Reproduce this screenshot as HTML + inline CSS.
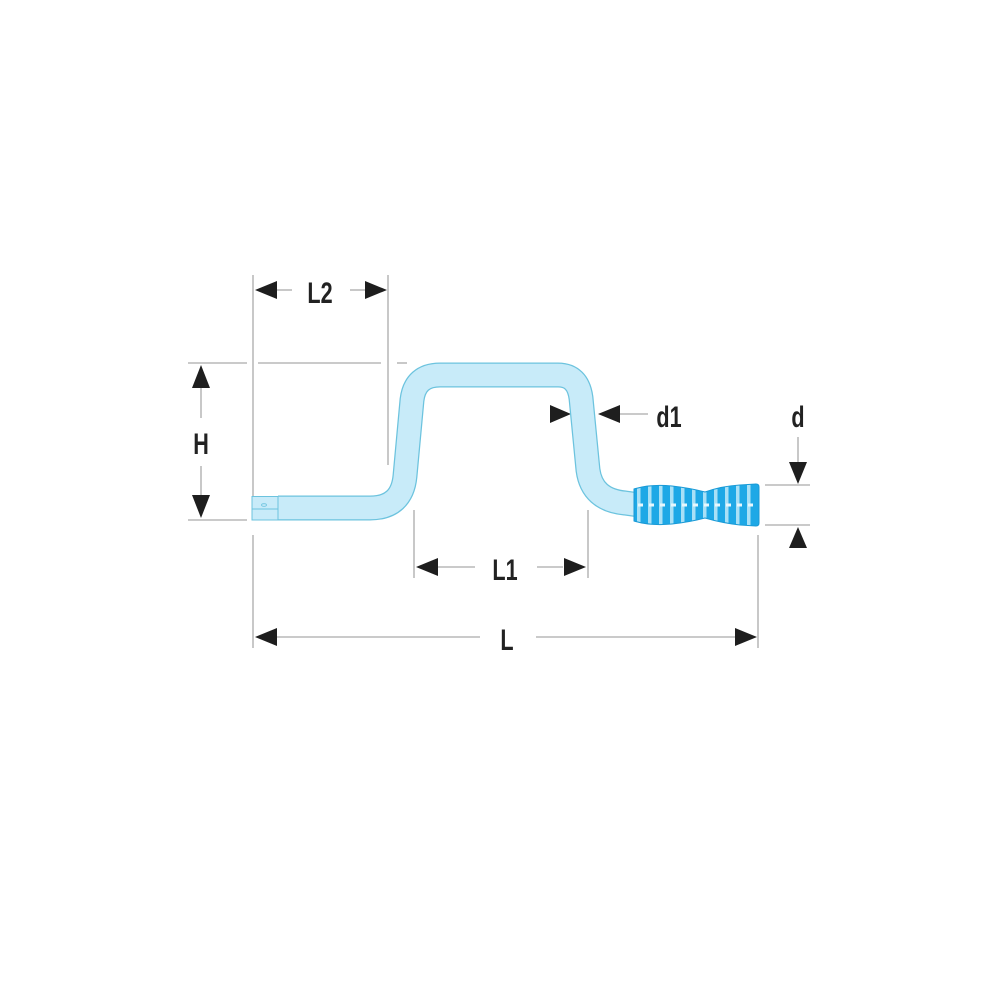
<!DOCTYPE html>
<html><head><meta charset="utf-8"><style>
html,body{margin:0;padding:0;background:#fff;width:1000px;height:1000px;overflow:hidden}
text{font-family:"Liberation Sans",sans-serif;font-weight:bold;fill:#222}
</style></head><body>
<svg width="1000" height="1000" viewBox="0 0 1000 1000" xmlns="http://www.w3.org/2000/svg">
<g stroke="#aaa" stroke-width="1.3" fill="none">
<line x1="253" y1="275" x2="253" y2="508"/>
<line x1="388" y1="275" x2="388" y2="465"/>
<line x1="188" y1="363" x2="247" y2="363"/>
<line x1="258" y1="363" x2="381" y2="363"/>
<line x1="397" y1="363" x2="407" y2="363"/>
<line x1="188" y1="520" x2="247" y2="520"/>
<line x1="253" y1="535" x2="253" y2="648"/>
<line x1="758" y1="535" x2="758" y2="648"/>
<line x1="414" y1="510" x2="414" y2="578"/>
<line x1="588" y1="510" x2="588" y2="578"/>
<line x1="765" y1="485" x2="810" y2="485"/>
<line x1="765" y1="525" x2="810" y2="525"/>
<line x1="277" y1="290" x2="292" y2="290"/>
<line x1="350" y1="290" x2="365" y2="290"/>
<line x1="201" y1="388" x2="201" y2="418"/>
<line x1="201" y1="466" x2="201" y2="495"/>
<line x1="277" y1="637" x2="480" y2="637"/>
<line x1="536" y1="637" x2="736" y2="637"/>
<line x1="437" y1="567" x2="475" y2="567"/>
<line x1="537" y1="567" x2="563" y2="567"/>
<line x1="620" y1="414" x2="648" y2="414"/>
<line x1="798" y1="437" x2="798" y2="462"/>
</g>
<g fill="#1e1e1e">
<polygon points="255,290 277,281 277,299"/>
<polygon points="387,290 365,281 365,299"/>
<polygon points="201,365 192,388 210,388"/>
<polygon points="201,518 192,495 210,495"/>
<polygon points="255,637 277,628 277,646"/>
<polygon points="757,637 735,628 735,646"/>
<polygon points="416,567 438,558 438,576"/>
<polygon points="586,567 564,558 564,576"/>
<polygon points="571,414 550,405 550,423"/>
<polygon points="598,414 620,405 620,423"/>
<polygon points="798,484 789,462 807,462"/>
<polygon points="798,527 789,548 807,548"/>
</g>
<path d="M278,508 L370,508 Q402,508 405,476 L412,400 Q415,375 440,375 L558,375 Q578,375 581,398 L588,470 Q592,500 625,503 L640,505" stroke="#6cc3de" stroke-width="25" fill="none" stroke-linejoin="round"/>
<path d="M276,508 L370,508 Q402,508 405,476 L412,400 Q415,375 440,375 L558,375 Q578,375 581,398 L588,470 Q592,500 625,503 L640,505" stroke="#c8ebf9" stroke-width="22.5" fill="none" stroke-linejoin="round"/>
<rect x="252" y="496.5" width="26" height="23.5" fill="#c8ebf9" stroke="#6cc3de" stroke-width="1"/>
<line x1="252" y1="509" x2="278" y2="509" stroke="#6cc3de" stroke-width="1"/>
<ellipse cx="264" cy="505" rx="2.5" ry="1.3" fill="none" stroke="#6cc3de" stroke-width="0.8"/>
<defs>
<clipPath id="hc"><path d="M634,489 Q650,484 672,486 Q690,488 705,492 Q722,486 740,485 L756,484 Q759,484 759,487 L759,523 Q759,526 756,526 L740,525 Q722,523 705,518 Q690,522 672,524 Q650,526 634,521 Z"/></clipPath>
</defs>
<g clip-path="url(#hc)">
<rect x="630" y="480" width="135" height="50" fill="#1ea8e6"/>
<g fill="#a9e0f6">
<rect x="637" y="480" width="3.5" height="50"/><rect x="648" y="480" width="3.5" height="50"/>
<rect x="659" y="480" width="3.5" height="50"/><rect x="670" y="480" width="3.5" height="50"/>
<rect x="681" y="480" width="3.5" height="50"/><rect x="692" y="480" width="3.5" height="50"/>
<rect x="703" y="480" width="3.5" height="50"/><rect x="714" y="480" width="3.5" height="50"/>
<rect x="725" y="480" width="3.5" height="50"/><rect x="736" y="480" width="3.5" height="50"/>
<rect x="747" y="480" width="3.5" height="50"/>
</g>
<line x1="638" y1="505" x2="756" y2="505" stroke="#e8f7fd" stroke-width="3" stroke-dasharray="5,6"/>
</g>
<path d="M634,489 Q650,484 672,486 Q690,488 705,492 Q722,486 740,485 L756,484 Q759,484 759,487 L759,523 Q759,526 756,526 L740,525 Q722,523 705,518 Q690,522 672,524 Q650,526 634,521 Z" fill="none" stroke="#1a9ad6" stroke-width="1"/>
<g font-size="30">
<text x="320" y="303" text-anchor="middle" transform="translate(320 0) scale(0.72 1) translate(-320 0)">L2</text>
<text x="201" y="454" text-anchor="middle" transform="translate(201 0) scale(0.72 1) translate(-201 0)">H</text>
<text x="507" y="650" text-anchor="middle" transform="translate(507 0) scale(0.72 1) translate(-507 0)">L</text>
<text x="505" y="580" text-anchor="middle" transform="translate(505 0) scale(0.72 1) translate(-505 0)">L1</text>
<text x="669" y="427" text-anchor="middle" transform="translate(669 0) scale(0.72 1) translate(-669 0)">d1</text>
<text x="798" y="427" text-anchor="middle" transform="translate(798 0) scale(0.72 1) translate(-798 0)">d</text>
</g>
</svg>
</body></html>
